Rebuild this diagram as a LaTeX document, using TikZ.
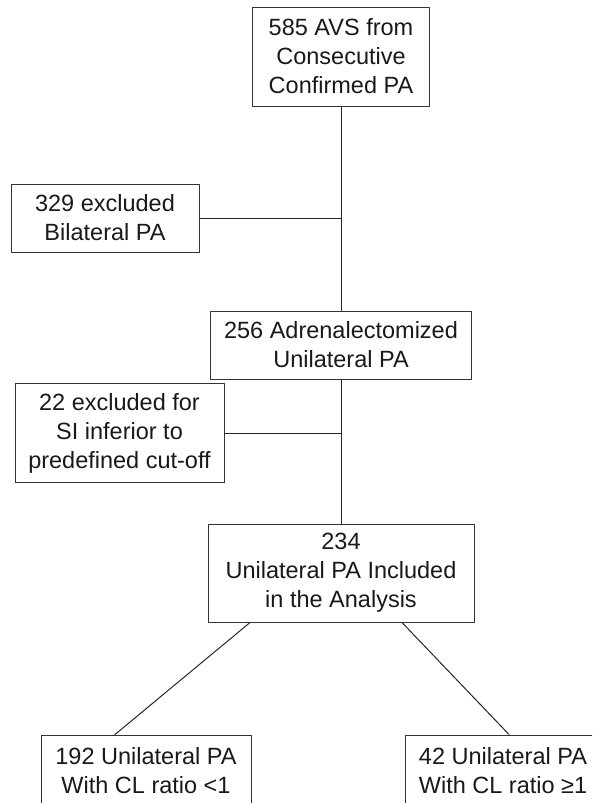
\documentclass[tikz,border=0pt]{standalone}
\usepackage{fontspec}
\setmainfont{Liberation Sans}
\begin{document}
\begin{tikzpicture}
    [x=1pt, y=-1pt,
    line cap=round,
    line join=round,
    every node/.style={font=\fontsize{23.5}{29}\selectfont, text=black!90},
    flowbox/.style={draw=black!80, line width=1pt, rectangle, align=center, inner sep=0pt},
    link/.style={draw=black!85, line width=1pt}]

    \useasboundingbox (0,0) rectangle (592,803);
    \clip (0,0) rectangle (592,803);

    \node[flowbox, minimum width=177, minimum height=99] (start) at (341, 56.5)
        {585 AVS from\\Consecutive\\Confirmed PA};
    \node[flowbox, minimum width=188, minimum height=68] (excl1) at (105, 218)
        {329 excluded\\Bilateral PA};
    \node[flowbox, minimum width=261, minimum height=68] (adr) at (341, 345)
        {256 Adrenalectomized\\Unilateral PA};
    \node[flowbox, minimum width=209, minimum height=99] (excl2) at (119.5, 433)
        {22 excluded for\\SI inferior to\\predefined cut-off};
    \node[flowbox, minimum width=266, minimum height=98] (incl) at (341, 573)
        {234\\Unilateral PA Included\\in the Analysis};
    \node[flowbox, minimum width=210, minimum height=72] (low) at (146, 771)
        {192 Unilateral PA\\With CL ratio <1};
    \node[flowbox, minimum width=196, minimum height=72] (high) at (503, 771)
        {42 Unilateral PA\\With CL ratio ≥1};

    % Hauptlinie
    \draw[link] (start.south) -- (adr.north);
    \draw[link] (adr.south) -- (incl.north);
    \draw[link] (excl1.east) -- (excl1.east -| start.south);
    \draw[link] (excl2.east) -- (excl2.east -| adr.south);

    % Aufteilung
    \draw[link] ([xshift=-91pt]incl.south) -- ([xshift=-31pt]low.north);
    \draw[link] ([xshift=61pt]incl.south) -- ([xshift=6pt]high.north);
\end{tikzpicture}
\end{document}
